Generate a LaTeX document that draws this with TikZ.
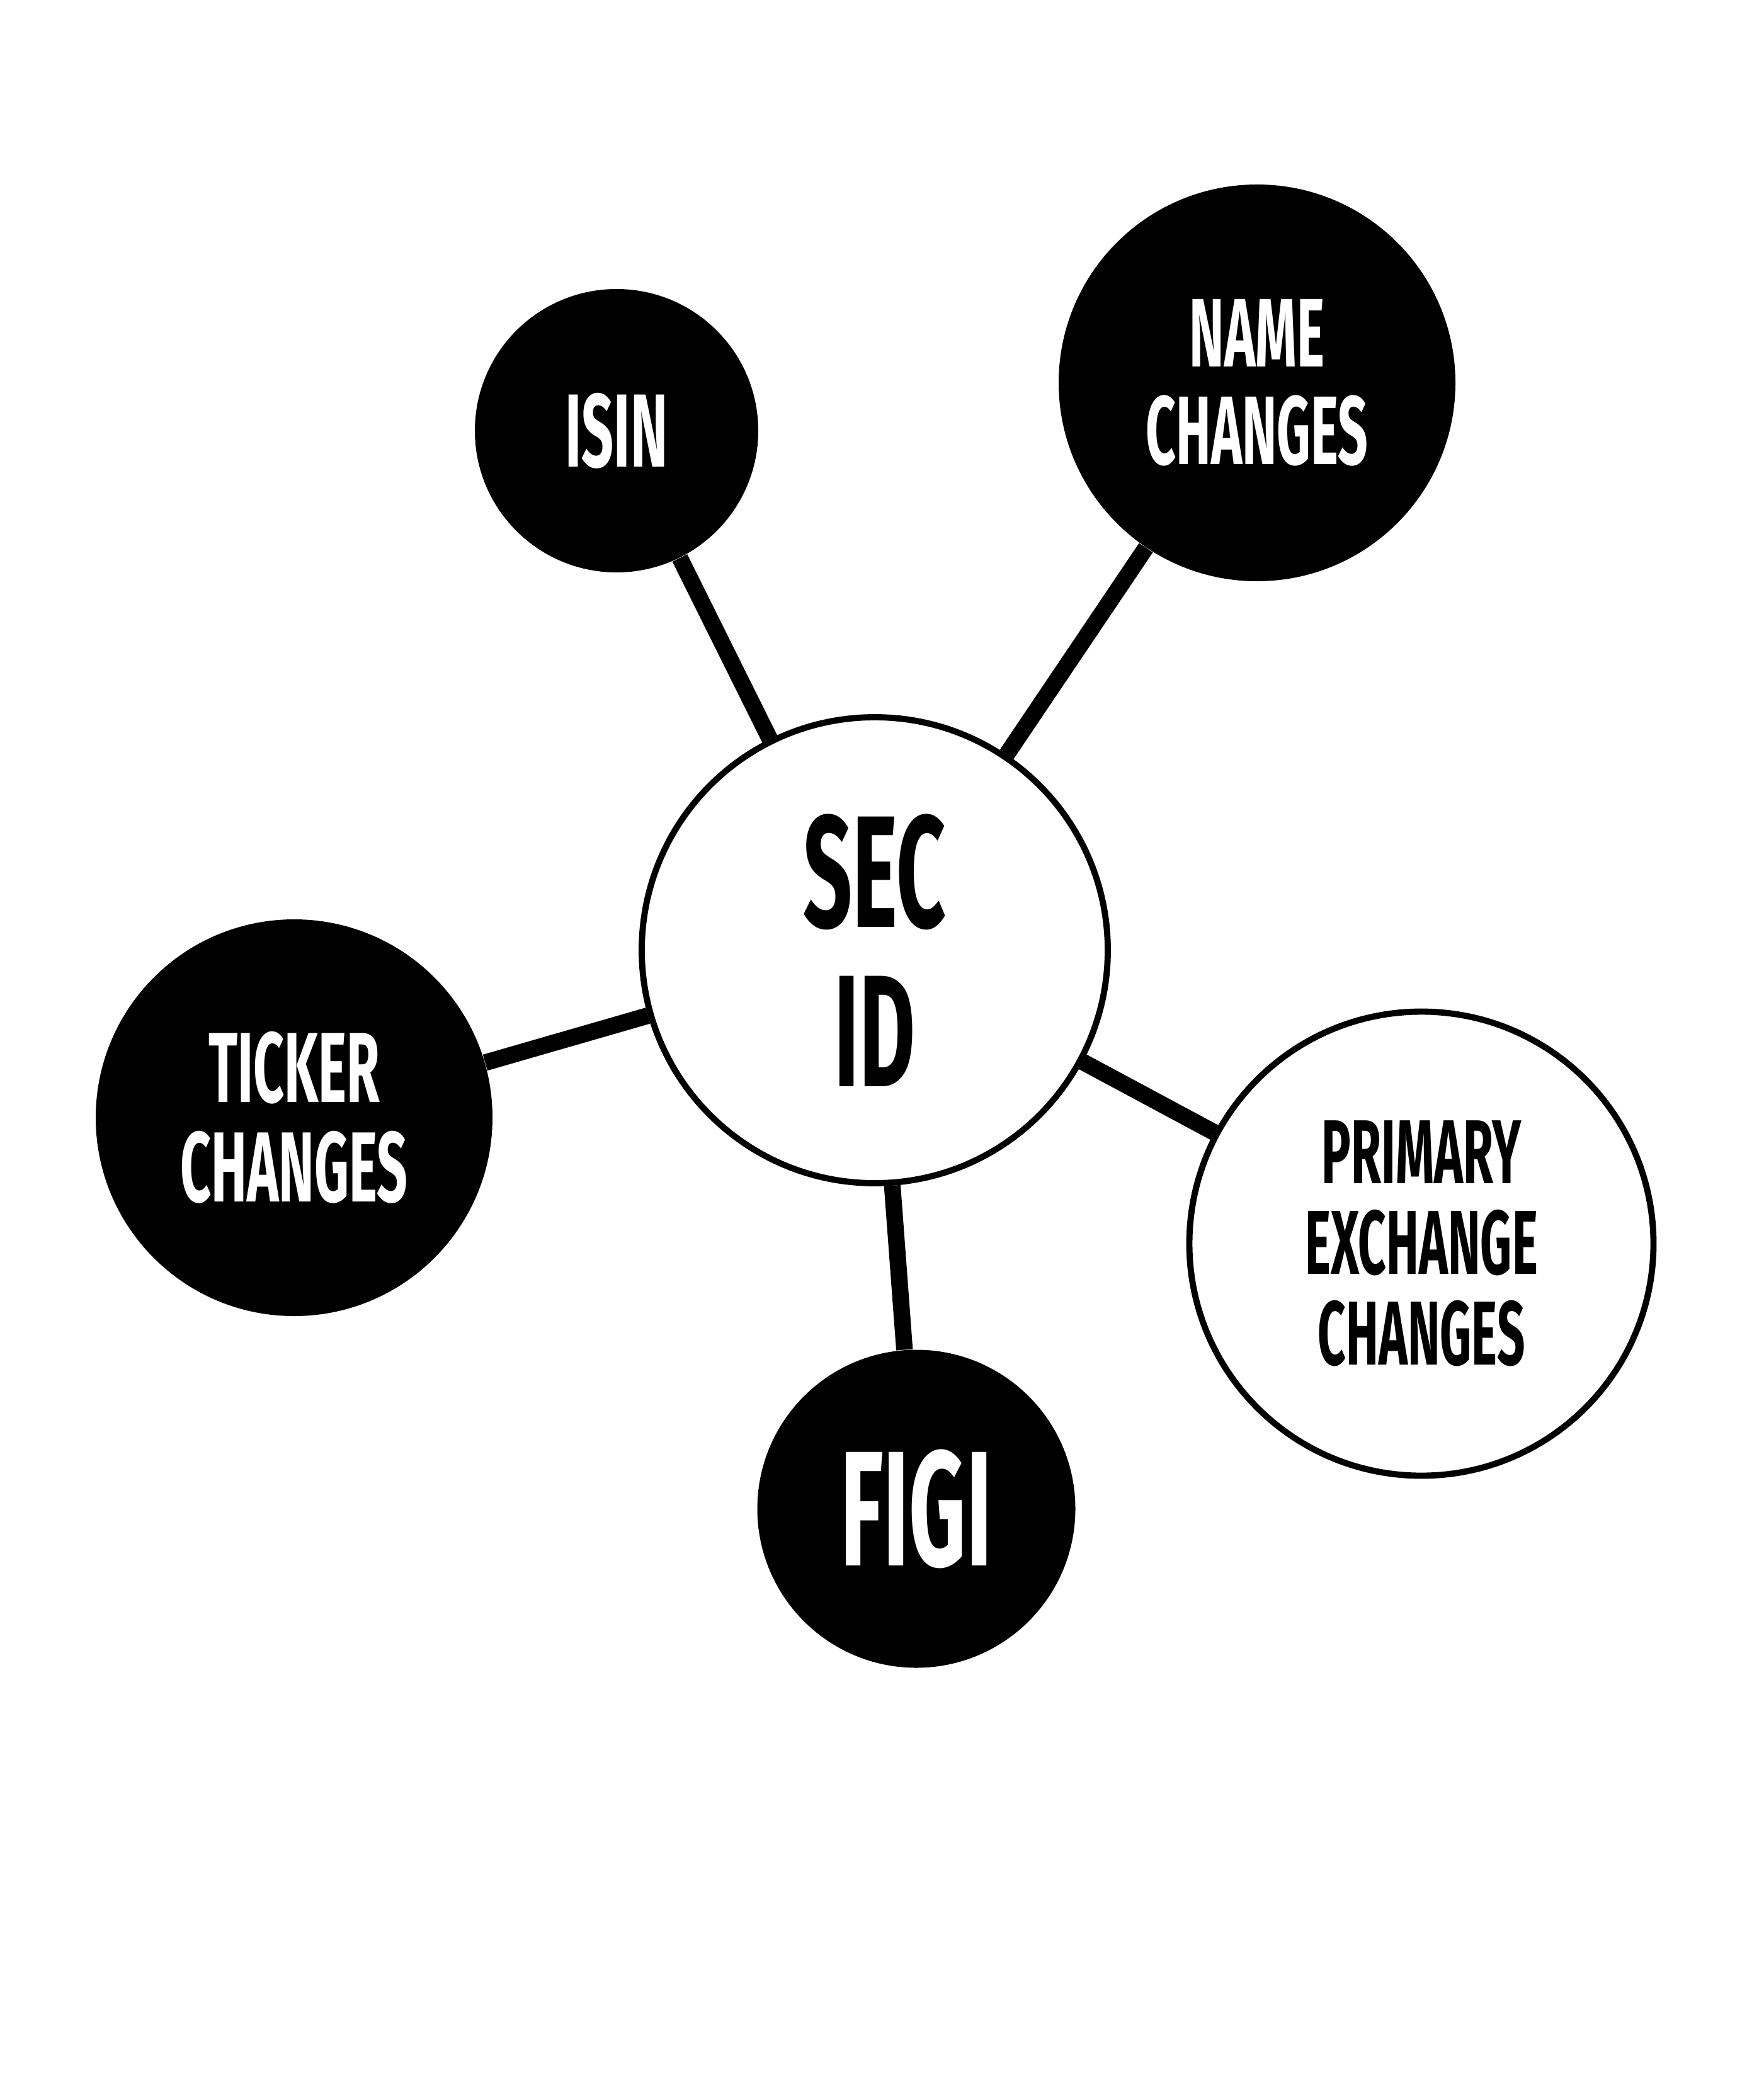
\documentclass[tikz,border=0pt]{standalone}
\usepackage{fontspec}
\setmainfont{Fira Sans}[FakeStretch=0.54]
\usepackage{tikz}
\usetikzlibrary{positioning}
\tikzstyle{darkbubble} = [circle, fill=black, text=white, inner sep=0pt, align=center]
\tikzstyle{lightbubble} = [circle, draw=black, line width=2.8pt, fill=white, text=black, inner sep=0pt, align=center]
\tikzstyle{spoke} = [line width=7.5pt, black]
\newcommand{\bubblefont}[1]{\fontsize{#1}{#1}\selectfont\bfseries}

\begin{document}
\begin{tikzpicture}
\useasboundingbox (0,0) rectangle (28,-33);

\node[
    lightbubble,
    minimum size=7.4cm,
    font=\bubblefont{72pt}
] (secid) at (13.89,-15.09) {SEC\\ID};

\node[
    darkbubble,
    minimum size=4.5cm,
    font=\bubblefont{47pt}
] (isin) at (9.79,-6.84) {ISIN};

\node[
    darkbubble,
    minimum size=6.3cm,
    font=\bubblefont{44pt}
] (names) at (19.96,-6.08) {NAME\\CHANGES};

\node[
    darkbubble,
    minimum size=6.3cm,
    font=\bubblefont{45pt}
] (tickers) at (4.67,-17.75) {TICKER\\CHANGES};

\node[
    lightbubble,
    minimum size=7.37cm,
    font=\bubblefont{41pt}
] (exchanges) at (22.57,-19.75) {PRIMARY\\EXCHANGE\\CHANGES};

\node[
    darkbubble,
    minimum size=5.05cm,
    font=\bubblefont{74pt}
] (figi) at (14.55,-23.96) {FIGI};

% spokes out of the centre
\draw[spoke] (isin) -- (secid);
\draw[spoke] (names) -- (secid);
\draw[spoke] (tickers) -- (secid);
\draw[spoke] (exchanges) -- (secid);
\draw[spoke] (figi) -- (secid);

\end{tikzpicture}
\end{document}
